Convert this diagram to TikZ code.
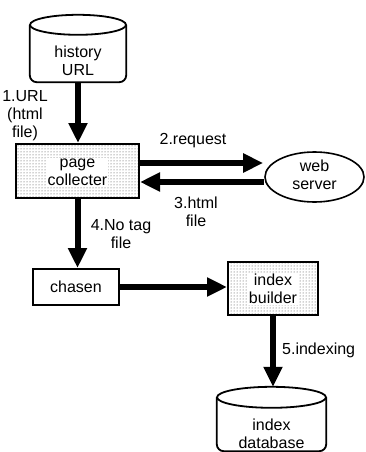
\documentclass[tikz,border=0pt]{standalone}
\usepackage{fontspec}
\setmainfont{Liberation Sans}
\usetikzlibrary{arrows.meta,patterns,shapes.geometric,calc}
\begin{document}
\begin{tikzpicture}[x=1pt,y=-1pt,
  every node/.style={font=\fontsize{16}{18}\selectfont, align=center},
  flow/.style={line width=6pt, -{Triangle[width=18pt,length=20pt]}},
  dotbox/.style={draw, line width=2pt, pattern=dots, pattern color=black!75},
  plainbox/.style={draw, line width=2pt, fill=white},
  cyl/.style={line width=1.8pt},
  whitetxt/.style={fill=white, inner sep=1pt},
  lbl/.style={inner sep=0pt}
]
\useasboundingbox (0,0) rectangle (365,452);

% history URL cylinder
\node[minimum width=96pt, minimum height=67pt, inner sep=0pt] (hist) at (78,48.5) {};
\draw[cyl] ([yshift=-10pt]hist.north west) [rounded corners=7pt] -- (hist.south west) -- (hist.south east) -- ([yshift=-10pt]hist.north east);
\draw[cyl] ([yshift=-10pt]hist.north) ellipse [x radius=48pt, y radius=10pt];
\node[lbl] (histtxt) at (78,61) {history\\URL};

% page collecter
\node[dotbox, minimum width=123pt, minimum height=54pt, inner sep=0pt] (pc) at (77.5,171) {};
\node[whitetxt] (pctxt) at (77.5,172.5) {page\\collecter};

% web server
\node[ellipse, draw, line width=1.6pt, minimum width=99pt, minimum height=50pt, inner sep=0pt] (ws) at (314.5,177) {};
\node[lbl] (wstxt) at (314.5,175) {web\\server};

% chasen
\node[plainbox, minimum width=86pt, minimum height=36pt, inner sep=0pt] (ch) at (76,287) {chasen};

% index builder
\node[dotbox, minimum width=90pt, minimum height=53pt, inner sep=0pt] (ib) at (273,288.5) {};
\node[whitetxt] (ibtxt) at (273,289) {index\\builder};

% index database cylinder
\node[minimum width=109pt, minimum height=64pt, inner sep=0pt] (db) at (271.5,419) {};
\draw[cyl] ([yshift=-10.5pt]db.north west) [rounded corners=7pt] -- (db.south west) -- (db.south east) -- ([yshift=-10.5pt]db.north east);
\draw[cyl] ([yshift=-10.5pt]db.north) ellipse [x radius=54.5pt, y radius=10.5pt];
\node[lbl] (dbtxt) at (271.5,433.5) {index\\database};

% connectors
\draw[flow] (hist.south) -- (hist.south |- pc.north);
\draw[flow] ([yshift=8pt]pc.east) -- ([yshift=8pt,xshift=-1pt]pc.east -| ws.west);
\draw[flow] ([yshift=-11pt]pc.east -| ws.west) -- ([yshift=-11pt]pc.east);
\draw[flow] (pc.south) -- (pc.south |- ch.north);
\draw[flow] (ch.east) -- (ch.east -| ib.west);
\draw[flow] (ib.south) -- (ib.south |- db.north);

% labels
\node[lbl] (l1) at (25,116) {1.URL\\(html\\file)};
\node[lbl] (l2) at (193,141) {2.request};
\node[lbl] (l3) at (196,211.5) {3.html\\file};
\node[lbl] (l4) at (121,234) {4.No tag\\file};
\node[lbl, anchor=west] (l5) at (282,350) {5.indexing};
\end{tikzpicture}
\end{document}
